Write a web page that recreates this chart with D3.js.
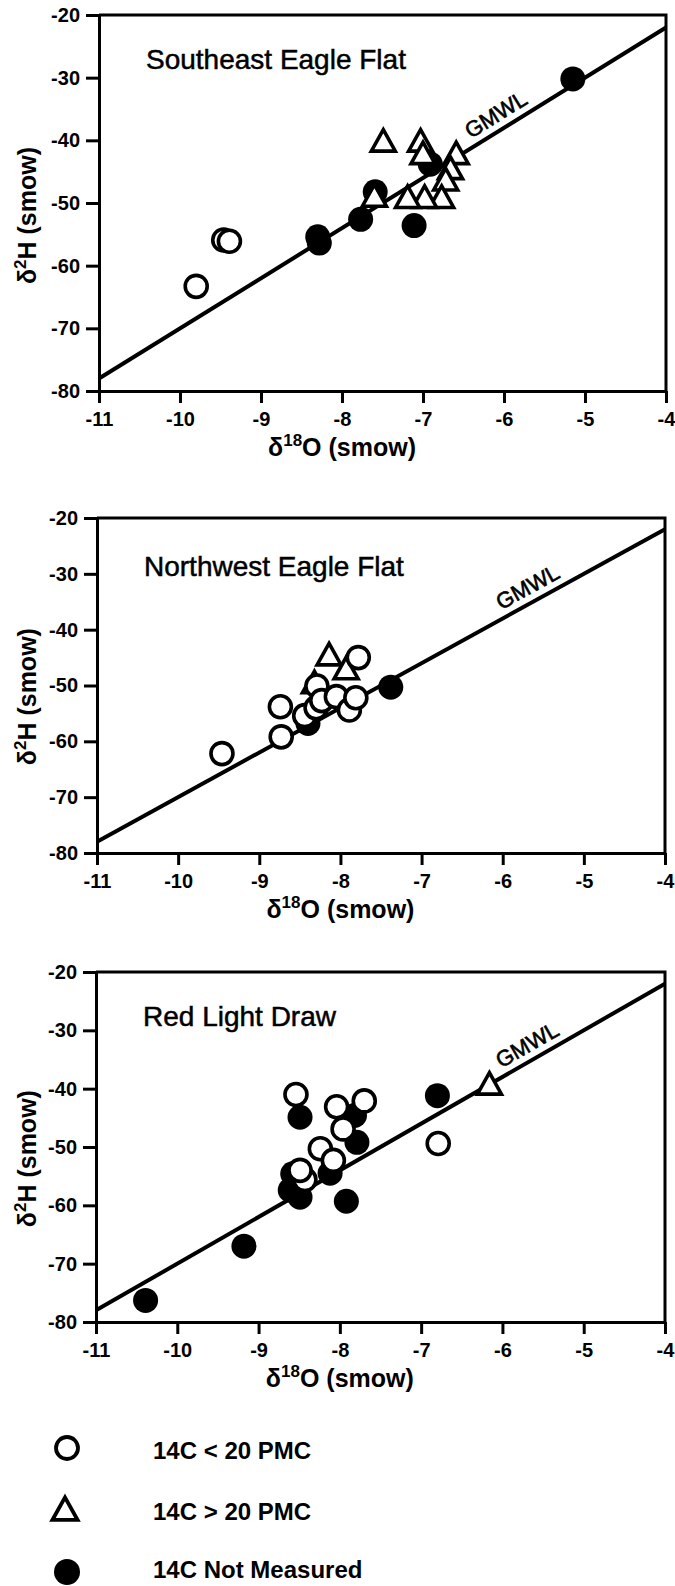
<!DOCTYPE html>
<html><head><meta charset="utf-8">
<script src="https://cdn.jsdelivr.net/npm/d3@7"></script>
<style>body{margin:0;background:#fff}svg{display:block}</style>
</head><body>
<script>
// ---------- data ----------
const xTicks = [-11, -10, -9, -8, -7, -6, -5, -4];
const yTicks = [-20, -30, -40, -50, -60, -70, -80];
const panelTitles = ["Southeast Eagle Flat", "Northwest Eagle Flat", "Red Light Draw"];
const gmwlEnds = [-11, -4];            // δ18O range; GMWL: δ2H = 8·δ18O + 10
const gmwlLabelAt = [-6.0, -5.6, -5.6];
const legendLabels = ["14C < 20 PMC", "14C > 20 PMC", "14C Not Measured"];

// Southeast Eagle Flat
const seOpen = [[-9.80, -63.3], [-9.46, -55.9], [-9.39, -56.1]];
const seTri = [[-7.49, -40.2], [-7.03, -40.2], [-7.00, -42.2], [-6.59, -42.2], [-6.66, -44.6],
               [-6.72, -46.4], [-6.77, -49.2], [-6.98, -49.2], [-7.19, -49.2], [-7.60, -49.0]];
const seFilled = [[-5.15, -30.2], [-6.91, -43.8], [-7.59, -48.2], [-7.77, -52.6],
                  [-8.30, -55.4], [-8.28, -56.4], [-7.11, -53.6]];

// Northwest Eagle Flat
const nwOpen = [[-9.46, -62.2], [-8.73, -59.2], [-8.74, -53.8], [-8.44, -55.4], [-8.29, -50.1],
                [-8.30, -54.0], [-8.23, -52.7], [-8.05, -52.0], [-7.89, -54.4], [-7.81, -52.2], [-7.78, -45.0]];
const nwTri = [[-8.32, -49.6], [-8.14, -44.6], [-7.93, -47.1]];
const nwFilled = [[-7.38, -50.3], [-8.40, -56.8]];

// Red Light Draw
const rlOpen = [[-8.43, -55.6], [-8.54, -41.0], [-8.04, -43.1], [-7.70, -42.1], [-7.96, -46.9],
                [-8.24, -50.3], [-8.08, -52.3], [-8.49, -54.0], [-6.79, -49.4]];
const rlTri = [[-6.16, -39.3]];
const rlFilled = [[-10.39, -76.3], [-9.18, -67.0], [-8.61, -57.4], [-8.49, -58.6], [-8.49, -44.9],
                  [-7.92, -59.3], [-7.79, -49.2], [-7.82, -44.6], [-8.12, -54.5], [-8.58, -54.6], [-6.80, -41.2]];

// ---------- layout ----------
const W = 675, H = 1586;
const FONT = "'Liberation Sans', Arial, Helvetica, sans-serif";
const panels = [
  {title: panelTitles[0], open: seOpen, tri: seTri, filled: seFilled, L: 99, R: 666, T: 15, B: 391, titleDy: 54, lab: gmwlLabelAt[0]},
  {title: panelTitles[1], open: nwOpen, tri: nwTri, filled: nwFilled, L: 97, R: 665, T: 518, B: 853, titleDy: 58, lab: gmwlLabelAt[1]},
  {title: panelTitles[2], open: rlOpen, tri: rlTri, filled: rlFilled, L: 96, R: 665, T: 972, B: 1322, titleDy: 54, lab: gmwlLabelAt[2]}
];

const svg = d3.select("body").append("svg").attr("width", W).attr("height", H)
  .style("font-family", FONT);
svg.append("rect").attr("width", W).attr("height", H).attr("fill", "#fff");

const triPath = "M0,-12L12,9.5L-12,9.5Z";

panels.forEach(p => {
  const x = d3.scaleLinear().domain([-11, -4]).range([p.L, p.R]);
  const y = d3.scaleLinear().domain([-80, -20]).range([p.B, p.T]);
  const g = svg.append("g");

  // frame top/right
  g.append("path").attr("d", `M${p.L},${p.T}H${p.R}V${p.B}`)
    .attr("fill", "none").attr("stroke", "#000").attr("stroke-width", 3);

  const xa = g.append("g").attr("transform", `translate(0,${p.B})`)
    .call(d3.axisBottom(x).tickValues(xTicks).tickSize(12).tickSizeOuter(0).tickPadding(9)
      .tickFormat(d => String(d)));
  const ya = g.append("g").attr("transform", `translate(${p.L},0)`)
    .call(d3.axisLeft(y).tickValues(yTicks).tickSize(13).tickSizeOuter(0).tickPadding(6)
      .tickFormat(d => String(d)));
  [xa, ya].forEach(a => {
    a.select(".domain").attr("stroke-width", 3);
    a.selectAll(".tick line").attr("stroke-width", 3);
    a.selectAll(".tick text").attr("font-size", 20).attr("font-weight", "bold")
      .attr("font-family", FONT).attr("fill", "#000");
  });

  // GMWL line
  const line = d3.line().x(d => x(d)).y(d => y(8 * d + 10));
  g.append("path").attr("d", line(gmwlEnds)).attr("fill", "none")
    .attr("stroke", "#000").attr("stroke-width", 4);

  // GMWL label
  const ang = Math.atan2(y(8 * gmwlEnds[1] + 10) - y(8 * gmwlEnds[0] + 10), x(gmwlEnds[1]) - x(gmwlEnds[0])) * 180 / Math.PI;
  g.append("text")
    .attr("transform", `translate(${x(p.lab)},${y(8 * p.lab + 10)}) rotate(${ang})`)
    .attr("y", -8).attr("text-anchor", "middle")
    .attr("font-size", 22).attr("stroke", "#000").attr("stroke-width", 0.6)
    .text("GMWL");

  // title
  g.append("text").attr("x", p.L + 47).attr("y", p.T + p.titleDy)
    .attr("font-size", 28).attr("stroke", "#000").attr("stroke-width", 0.5).text(p.title);

  // marks: filled, triangles, open
  g.selectAll(".f").data(p.filled).join("circle")
    .attr("cx", d => x(d[0])).attr("cy", d => y(d[1])).attr("r", 12.5).attr("fill", "#000");
  g.selectAll(".t").data(p.tri).join("path")
    .attr("transform", d => `translate(${x(d[0])},${y(d[1])})`).attr("d", triPath)
    .attr("fill", "#fff").attr("stroke", "#000").attr("stroke-width", 3.6).attr("stroke-linejoin", "miter");
  g.selectAll(".o").data(p.open).join("circle")
    .attr("cx", d => x(d[0])).attr("cy", d => y(d[1])).attr("r", 11)
    .attr("fill", "#fff").attr("stroke", "#000").attr("stroke-width", 3.6);

  // x title
  const xt = g.append("text").attr("x", x(-8.0)).attr("y", p.B + 65)
    .attr("text-anchor", "middle").attr("font-size", 25).attr("font-weight", "bold");
  xt.append("tspan").text("δ");
  xt.append("tspan").attr("dy", -10).attr("font-size", 17).text("18");
  xt.append("tspan").attr("dy", 10).text("O (smow)");

  // y title
  const yt = g.append("text").attr("transform", `translate(36,${y(-52)}) rotate(-90)`)
    .attr("text-anchor", "middle").attr("font-size", 25).attr("font-weight", "bold");
  yt.append("tspan").text("δ");
  yt.append("tspan").attr("dy", -10).attr("font-size", 17).text("2");
  yt.append("tspan").attr("dy", 10).text("H (smow)");
});

// legend
const legY = [1448, 1510, 1572];
const legBase = [1459, 1520, 1578];
const lg = svg.append("g");
lg.append("circle").attr("cx", 67).attr("cy", legY[0]).attr("r", 11)
  .attr("fill", "#fff").attr("stroke", "#000").attr("stroke-width", 3.8);
lg.append("path").attr("transform", `translate(65,${legY[1]}) scale(1.05)`).attr("d", triPath)
  .attr("fill", "#fff").attr("stroke", "#000").attr("stroke-width", 3.6);
lg.append("circle").attr("cx", 67).attr("cy", legY[2]).attr("r", 13).attr("fill", "#000");
lg.selectAll("text.leg").data(legendLabels).join("text")
  .attr("x", 153).attr("y", (d, i) => legBase[i])
  .attr("font-size", 24).attr("font-weight", "bold").text(d => d);
</script>
</body></html>
